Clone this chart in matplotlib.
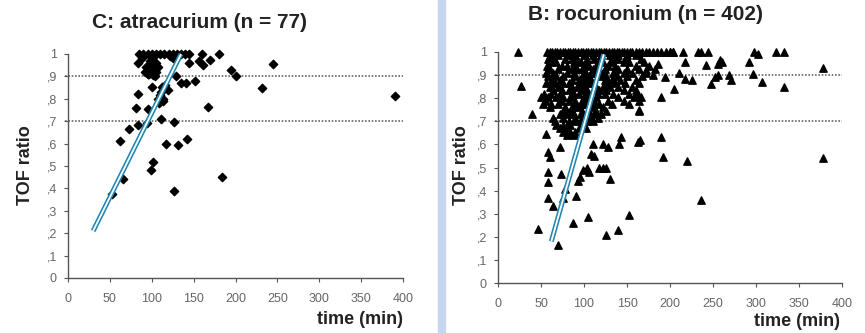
import matplotlib.pyplot as plt
from matplotlib.patches import Rectangle

# === Data ===
atra_time = [85, 90, 95, 100, 105, 110, 115, 120, 125, 130, 135, 140, 145, 160, 180,
             84, 99, 105, 100, 92, 97, 101, 104, 95, 105, 125, 145, 156, 161, 169,
             195, 201, 245, 129, 135, 141, 152, 100, 112, 119, 84, 108, 111, 113,
             110, 114, 81, 96, 167, 232, 391, 83, 94, 73, 111, 127, 62, 117, 131,
             142, 102, 99, 66, 52, 127, 184, 88, 93, 98, 103, 108, 96, 102, 116, 109,
             90, 122]
atra_tof = [1.0, 1.0, 1.0, 1.0, 1.0, 1.0, 1.0, 1.0, 1.0, 1.0, 1.0, 1.0, 1.0, 1.0, 1.0,
            0.96, 0.96, 0.96, 0.95, 0.92, 0.91, 0.93, 0.90, 0.91, 0.92, 0.98, 0.96, 0.97, 0.95, 0.975,
            0.93, 0.90, 0.955, 0.90, 0.87, 0.87, 0.88, 0.853, 0.853, 0.84, 0.82, 0.80, 0.83, 0.79,
            0.815, 0.80, 0.76, 0.755, 0.762, 0.848, 0.811, 0.685, 0.69, 0.665, 0.71, 0.695, 0.61, 0.598, 0.592,
            0.62, 0.52, 0.484, 0.44, 0.375, 0.39, 0.45, 0.98, 0.94, 0.97, 0.99, 0.94, 0.91, 0.905, 0.86, 0.78,
            0.99, 0.99]

roc_rows_y = [1.0, 0.985, 0.97, 0.955, 0.94, 0.925, 0.91, 0.895, 0.88, 0.865, 0.85, 0.835,
              0.82, 0.805, 0.79, 0.775, 0.76, 0.745, 0.73, 0.715, 0.70, 0.685, 0.67, 0.655, 0.64]
roc_rows_x = [
    [57, 60, 63, 66, 69, 72, 75, 78, 81, 84, 87, 90, 93, 96, 99, 102, 105, 108, 111, 114, 117, 120,
     123, 126, 129, 132, 135, 138, 141, 144, 147, 150, 153, 156, 160, 164, 168, 172, 176, 180, 185,
     190, 195, 200, 204],
    [60, 70, 80, 90, 100, 110, 120, 130, 140, 150, 160],
    [58, 64, 78, 86, 92, 104, 112, 118, 134, 140, 148, 166],
    [62, 68, 88, 96, 102, 116, 122, 130, 146, 152, 170],
    [57, 74, 80, 90, 100, 106, 114, 128, 136, 160, 176],
    [60, 70, 86, 92, 98, 110, 118, 124, 140, 150, 164, 182],
    [56, 64, 80, 88, 102, 108, 114, 122, 134, 146, 156, 172],
    [58, 68, 76, 90, 98, 106, 120, 126, 138, 150, 168],
    [62, 72, 86, 94, 100, 108, 124, 132, 142, 160],
    [56, 66, 76, 82, 96, 104, 112, 128, 136, 148, 164],
    [60, 70, 86, 92, 100, 114, 122, 130, 140, 156],
    [64, 74, 82, 96, 104, 110, 118, 126, 146, 160],
    [54, 62, 72, 88, 94, 102, 116, 124, 134, 152, 162],
    [50, 58, 68, 76, 84, 100, 106, 114, 140, 158, 166],
    [56, 74, 82, 90, 98, 112, 128, 146, 164],
    [52, 62, 70, 88, 96, 102, 110, 118, 132, 152],
    [60, 78, 86, 94, 108, 122],
    [76, 84, 98, 106, 114, 126, 164],
    [72, 80, 88, 96, 112, 120],
    [64, 76, 90, 98, 106, 116],
    [66, 82, 88, 96, 104, 110],
    [68, 76, 84, 100],
    [72, 80, 94, 102],
    [76, 84, 90],
    [80, 88],
]
roc_out_time = [23, 27, 39, 46.5, 56, 58, 60, 58, 58, 58, 64, 70, 72, 73, 77.5, 75.5, 87, 91, 93, 95,
                99, 103, 106, 104.6, 108.5, 112, 118, 122, 126, 130, 126, 140, 152, 141, 143, 122, 128,
                110, 164, 165, 163, 190, 192, 220, 236, 378, 378, 190, 205, 194, 200, 204, 215, 218,
                218, 232, 236, 244, 242, 248, 252, 256, 256, 258, 260, 269, 271, 292, 298, 302, 296,
                307, 323, 333, 333, 172, 180, 186, 210, 225]
roc_out_tof = [1.0, 0.853, 0.733, 0.235, 0.646, 0.567, 0.545, 0.48, 0.438, 0.366, 0.334, 0.165, 0.59,
               0.47, 0.405, 0.37, 0.26, 0.378, 0.44, 0.46, 0.49, 0.50, 0.48, 0.285, 0.56, 0.55, 0.50,
               0.50, 0.50, 0.45, 0.206, 0.228, 0.293, 0.60, 0.63, 0.60, 0.59, 0.60, 0.75, 0.62, 0.61,
               0.63, 0.545, 0.53, 0.36, 0.54, 0.93, 0.805, 0.84, 0.89, 1.0, 1.0, 1.0, 0.957, 0.885,
               1.0, 1.0, 1.0, 0.942, 0.86, 0.89, 0.90, 0.95, 0.965, 0.955, 0.90, 0.877, 0.957, 1.0,
               0.99, 0.906, 0.87, 1.0, 1.0, 0.85, 0.92, 0.90, 0.95, 0.91, 0.88]

roc_time = [x for xs in roc_rows_x for x in xs] + roc_out_time
roc_tof = [y for y, xs in zip(roc_rows_y, roc_rows_x) for _ in xs] + roc_out_tof

# guide lines (start, end) in data units
atra_line = ([30, 135], [0.21, 1.0])
roc_line = ([62, 123], [0.18, 0.99])

x_ticks = [0, 50, 100, 150, 200, 250, 300, 350, 400]
y_ticks = [0, 0.1, 0.2, 0.3, 0.4, 0.5, 0.6, 0.7, 0.8, 0.9, 1.0]
y_ticklabels = ["0", ",1", ",2", ",3", ",4", ",5", ",6", ",7", ",8", ",9", "1"]
ref_levels = [0.9, 0.7]

plt.rcParams['font.family'] = ['Liberation Sans', 'DejaVu Sans']

fig = plt.figure(figsize=(8.65, 3.33), dpi=100)
fig.patch.set_facecolor("white")

# light blue separator between panels
fig.patches.append(Rectangle((438 / 865, 0), 7 / 865, 1, transform=fig.transFigure,
                             color="#c6d6f0", zorder=0))

ax1 = fig.add_axes([68 / 865, 55 / 333, 335 / 865, 224 / 333])
ax2 = fig.add_axes([498 / 865, 50 / 333, 344 / 865, 231 / 333])


def style_axis(ax):
    ax.set_xlim(0, 400)
    ax.set_ylim(0, 1)
    for s in ["top", "right"]:
        ax.spines[s].set_visible(False)
    for s in ["left", "bottom"]:
        ax.spines[s].set_color("#555555")
        ax.spines[s].set_linewidth(1.0)
    ax.set_xticks(x_ticks)
    ax.set_xticklabels([str(t) for t in x_ticks])
    ax.set_yticks(y_ticks)
    ax.set_yticklabels(y_ticklabels)
    ax.tick_params(direction="out", length=3, width=0.8, color="#555555",
                   labelsize=9, labelcolor="#666666")
    ax.tick_params(axis="x", pad=8)
    ax.tick_params(axis="y", pad=5)
    ax.set_facecolor("none")
    for lv in ref_levels:
        ax.plot([-4, 400], [lv, lv], color="#666666", linestyle=(0, (1, 1)),
                linewidth=1.2, clip_on=False, zorder=1)


style_axis(ax1)
style_axis(ax2)

ax1.scatter(atra_time, atra_tof, marker="D", s=18, color="black", clip_on=False, zorder=2)
ax2.scatter(roc_time, roc_tof, marker="^", s=28, color="black", clip_on=False, zorder=2)

for ax, (lx, ly) in [(ax1, atra_line), (ax2, roc_line)]:
    ax.plot(lx, ly, color="#2386b0", linewidth=3.6, solid_capstyle="butt", zorder=3, clip_on=False)
    ax.plot(lx, ly, color="white", linewidth=1.3, solid_capstyle="butt", zorder=4, clip_on=False)

# === Labeling ===
fig.text(200 / 865, 1 - 22 / 333, "C: atracurium (n = 77)", ha="center", va="center",
         fontsize=15, fontweight="bold", color="#222222")
fig.text(645 / 865, 1 - 15 / 333, "B: rocuronium (n = 402)", ha="center", va="center",
         fontsize=15, fontweight="bold", color="#222222")
fig.text(26 / 865, 1 - 165 / 333, "TOF ratio", rotation=90, ha="center", va="center",
         fontsize=13, fontweight="bold", color="#222222")
fig.text(461 / 865, 1 - 165 / 333, "TOF ratio", rotation=90, ha="center", va="center",
         fontsize=13, fontweight="bold", color="#222222")
fig.text(403 / 865, 1 - 320 / 333, "time (min)", ha="right", va="center",
         fontsize=13, fontweight="bold", color="#222222")
fig.text(840 / 865, 1 - 322 / 333, "time (min)", ha="right", va="center",
         fontsize=13, fontweight="bold", color="#222222")

fig.savefig("out.png", dpi=100)
